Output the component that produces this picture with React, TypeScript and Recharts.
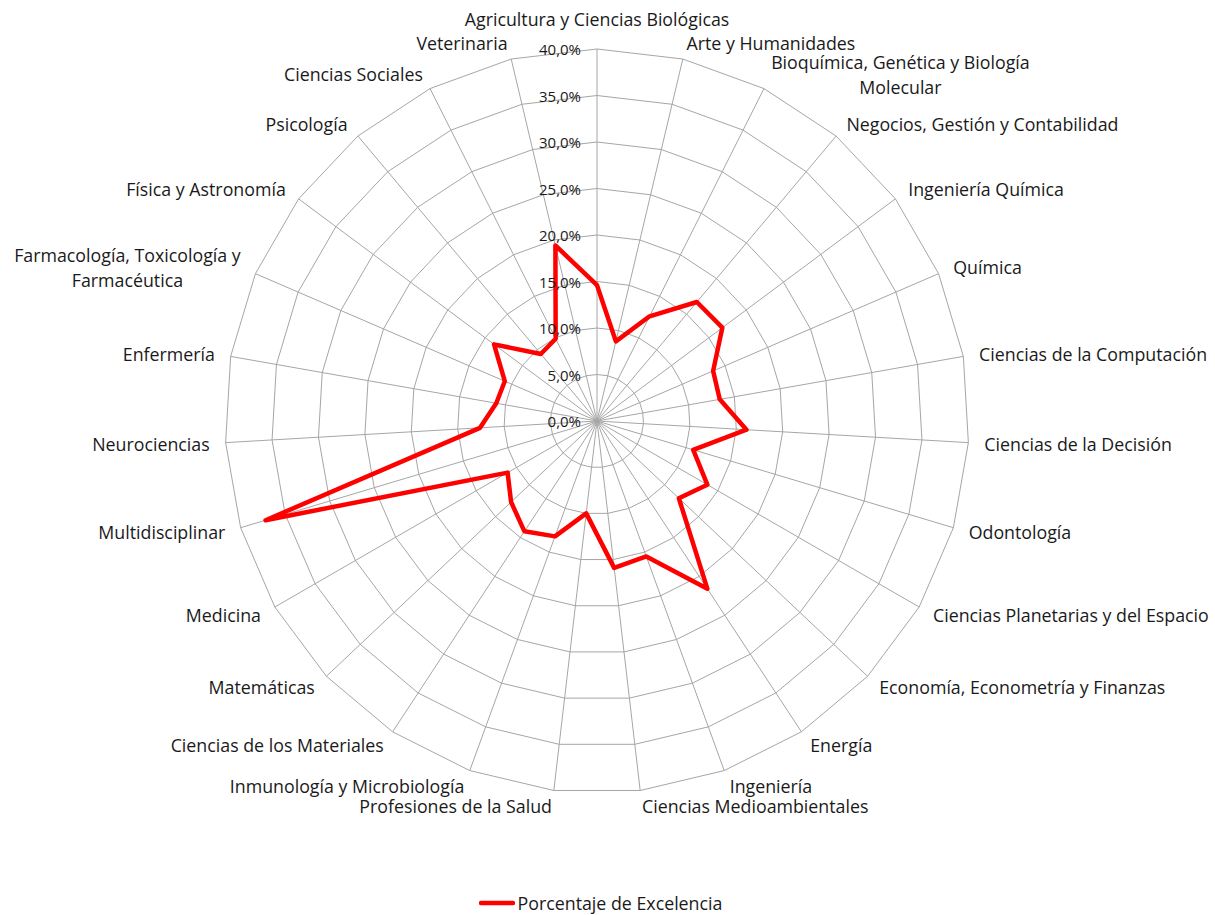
import React from 'react';
import { RadarChart, PolarGrid, PolarAngleAxis, PolarRadiusAxis, Radar, Legend } from 'recharts';

const categories = [
  'Agricultura y Ciencias Biológicas',
  'Arte y Humanidades',
  'Bioquímica, Genética y Biología\nMolecular',
  'Negocios, Gestión y Contabilidad',
  'Ingeniería Química',
  'Química',
  'Ciencias de la Computación',
  'Ciencias de la Decisión',
  'Odontología',
  'Ciencias Planetarias y del Espacio',
  'Economía, Econometría y Finanzas',
  'Energía',
  'Ingeniería',
  'Ciencias Medioambientales',
  'Profesiones de la Salud',
  'Inmunología y Microbiología',
  'Ciencias de los Materiales',
  'Matemáticas',
  'Medicina',
  'Multidisciplinar',
  'Neurociencias',
  'Enfermería',
  'Farmacología, Toxicología y\nFarmacéutica',
  'Física y Astronomía',
  'Psicología',
  'Ciencias Sociales',
  'Veterinaria',
];

// Porcentaje de Excelencia (%)
const excelencia = [
  14.6, 8.8, 12.6, 16.7, 16.8, 13.6, 13.4, 16.1, 10.8, 13.7, 12.1, 21.6, 15.5, 15.9,
  10.0, 13.2, 14.2, 12.7, 11.1, 37.2, 12.6, 11.0, 10.8, 13.8, 9.4, 9.9, 19.4,
];

const radiusDomain = [0, 40];
const radiusTickCount = 9;

const W = 1215;
const H = 915;
const CX = 597;
const CY = 421;
const R = 372;
const FONT = '"Open Sans", Lato, sans-serif';
const FS = 17.8;
const FS_TICK = 15;
const TEXT = '#1a1a1a';

const data = categories.map((area, i) => ({ area, valor: excelencia[i] }));

const fmtPct = (v: number) => `${Number(v).toFixed(1).replace('.', ',')}%`;

let ctx: CanvasRenderingContext2D | null = null;
function textWidth(s: string) {
  if (!ctx) ctx = document.createElement('canvas').getContext('2d');
  if (!ctx) return s.length * FS * 0.5;
  ctx.font = `${FS}px ${FONT}`;
  return ctx.measureText(s).width;
}

function AngleTick(props: any) {
  const { payload } = props;
  const a = (payload.coordinate * Math.PI) / 180;
  const sx = Math.cos(a);
  const sy = Math.sin(a);
  const vx = CX + R * sx;
  const vy = CY - R * sy;
  const ax = vx + 16 * sx;
  let ay = vy - 16 * sy;
  let anchor: 'start' | 'middle' | 'end' = 'middle';
  if (sx > 0.02) anchor = 'start';
  else if (sx < -0.02) anchor = 'end';
  if (anchor === 'middle') ay = vy + (sy > 0 ? -30 : 30);

  const lines = String(payload.value).split('\n');
  const lh = 25;
  let tx = ax;
  let ta: string = anchor;
  if (lines.length > 1) {
    const w = Math.max(...lines.map(textWidth));
    if (anchor === 'start') tx = ax + w / 2;
    if (anchor === 'end') tx = ax - w / 2;
    ta = 'middle';
  }
  const y0 = ay - ((lines.length - 1) * lh) / 2;
  return (
    <text
      textAnchor={ta}
      dominantBaseline="central"
      fontFamily={FONT}
      fontSize={FS}
      fill={TEXT}
    >
      {lines.map((l, i) => (
        <tspan key={i} x={tx} y={y0 + i * lh}>
          {l}
        </tspan>
      ))}
    </text>
  );
}

function RadiusTick(props: any) {
  const { y, payload } = props;
  return (
    <text
      x={CX - 16}
      y={y}
      textAnchor="end"
      dominantBaseline="central"
      fontFamily={FONT}
      fontSize={FS_TICK}
      fill={TEXT}
    >
      {fmtPct(payload.value)}
    </text>
  );
}

function LegendContent() {
  return (
    <div
      style={{
        display: 'flex',
        justifyContent: 'center',
        alignItems: 'center',
        fontFamily: FONT,
        fontSize: FS,
        color: TEXT,
        paddingRight: 14,
      }}
    >
      <svg width={36} height={8}>
        <line x1={2} y1={4} x2={34} y2={4} stroke="#ff0000" strokeWidth={4.5} strokeLinecap="round" />
      </svg>
      <span style={{ marginLeft: 3 }}>Porcentaje de Excelencia</span>
    </div>
  );
}

export default function App() {
  return (
    <div style={{ width: W, height: H, background: '#fff' }}>
      <style>{'body{margin:0}'}</style>
      <RadarChart
        width={W}
        height={H}
        data={data}
        cx={CX}
        cy={CY}
        outerRadius={R}
        margin={{ top: 0, right: 0, bottom: 0, left: 0 }}
      >
        <PolarGrid gridType="polygon" stroke="#a6a6a6" strokeWidth={1} />
        <PolarAngleAxis dataKey="area" tick={<AngleTick />} tickLine={false} axisLine={false} />
        <PolarRadiusAxis
          angle={90}
          domain={radiusDomain}
          tickCount={radiusTickCount}
          tick={<RadiusTick />}
          axisLine={false}
          tickLine={false}
        />
        <Radar
          name="Porcentaje de Excelencia"
          dataKey="valor"
          stroke="#ff0000"
          strokeWidth={4.5}
          strokeLinejoin="round"
          fill="none"
          fillOpacity={0}
          dot={false}
          isAnimationActive={false}
        />
        <Legend
          wrapperStyle={{ position: 'absolute', top: 891, left: 0, width: W }}
          content={<LegendContent />}
        />
      </RadarChart>
    </div>
  );
}
